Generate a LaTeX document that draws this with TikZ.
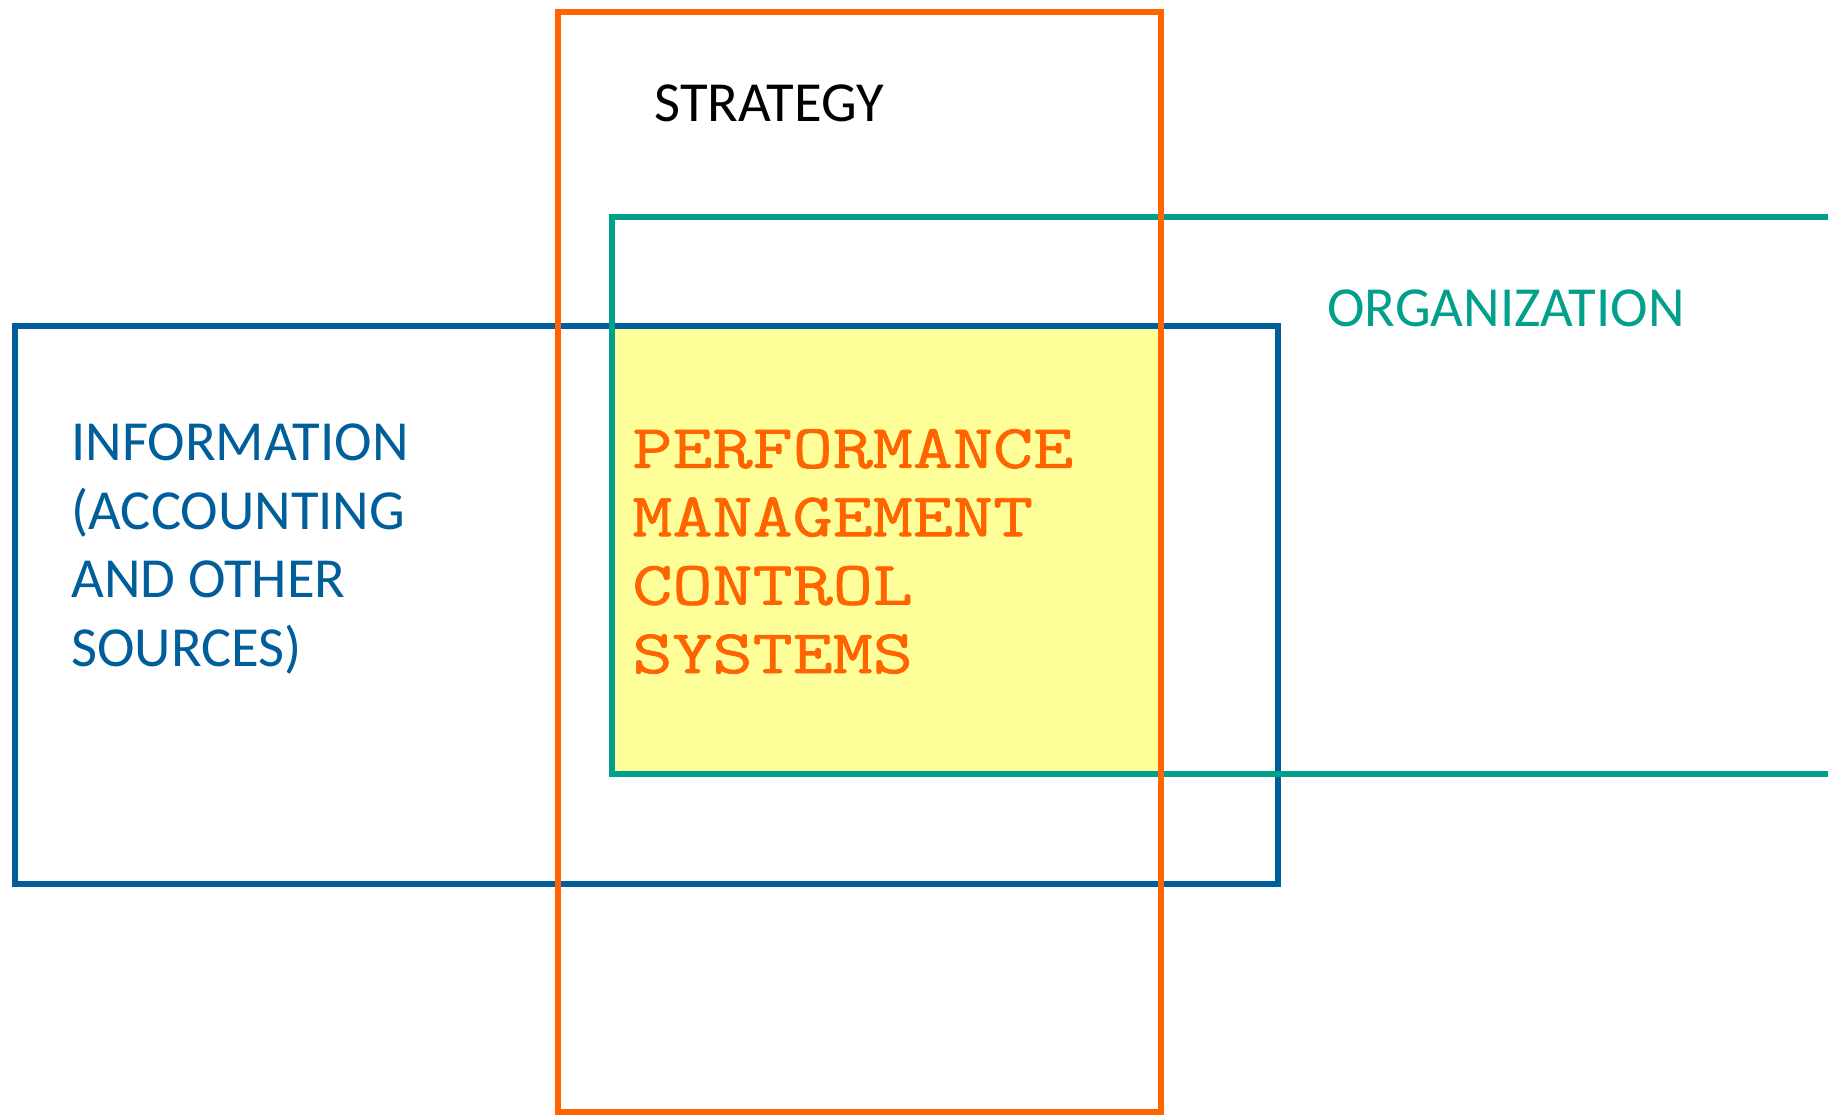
\documentclass[tikz,border=0pt]{standalone}
\usepackage{fontspec}
\setmainfont{Carlito}
\newfontfamily\pmfont[FakeStretch=1.255,FakeBold=1.2]{Latin Modern Mono}

\definecolor{infoblue}{HTML}{005E9B}
\definecolor{orgteal}{HTML}{00A08C}
\definecolor{stratorange}{HTML}{FF6400}
\definecolor{coreyellow}{HTML}{FFFF99}

\tikzset{
  frame/.style={line width=2.8pt},
  label/.style={inner sep=0pt, anchor=base west, font=\fontsize{28.3pt}{34.2pt}\selectfont, align=left},
  pmlabel/.style={inner sep=0pt, anchor=base west, text=stratorange,
    font=\fontsize{31pt}{34.2pt}\selectfont\pmfont, align=left}
}

\begin{document}
\begin{tikzpicture}[x=0.5pt,y=-0.5pt]
  \useasboundingbox (0,0) rectangle (1828,1115);
  \clip (0,0) rectangle (1828,1115);
  \fill[white] (0,0) rectangle (1828,1115);

  % shared region of the three areas
  \fill[coreyellow] (612,326) rectangle (1161,774);

  % information, organization and strategy frames
  \draw[frame, infoblue] (15,326) rectangle (1278,884);
  \draw[frame, orgteal] (612,217) rectangle (1860,774);
  \draw[frame, stratorange] (558,12) rectangle (1161,1112);

  % labels (multi-line labels are placed by the baseline of their last line)
  \node[label, text=black] (strategy) at (654,121) {STRATEGY};
  \node[label, text=orgteal] (organization) at (1327,326) {ORGANIZATION};
  \node[label, text=infoblue] (information) at (71,666)
    {INFORMATION\\(ACCOUNTING\\AND OTHER\\SOURCES)};
  \node[pmlabel] (pmcs) at (632,673)
    {PERFORMANCE\\MANAGEMENT\\CONTROL\\SYSTEMS};
\end{tikzpicture}
\end{document}
